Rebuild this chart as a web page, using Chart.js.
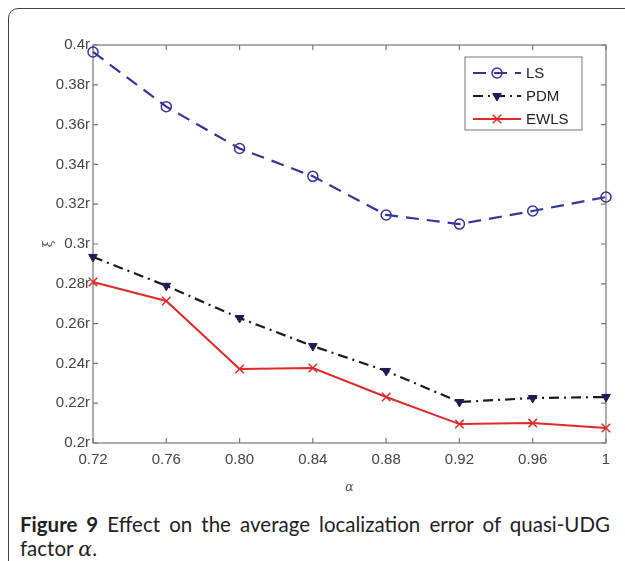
<!DOCTYPE html>
<html lang="en">
<head>
    <meta charset="UTF-8">
    <title>Effect of quasi-UDG factor</title>
    <script src="https://cdn.jsdelivr.net/npm/chart.js"></script>
    <style>
        html, body { margin: 0; padding: 0; background: #fff; }
        body { width: 625px; height: 561px; position: relative; overflow: hidden; }
        #frame {
            position: absolute; left: 8px; top: 8px; width: 640px; height: 580px;
            border: 1.5px solid #444; border-radius: 10px 0 0 0;
        }
        #errChart { position: absolute; left: 0; top: 0; }
        #caption {
            position: absolute; left: 20px; top: 512px; width: 590px;
            font-family: Lato, "Open Sans", sans-serif; font-size: 20.5px; line-height: 24px;
            color: #222; text-align: justify;
        }
        #caption b { font-weight: bold; }
        #caption i { font-family: "DejaVu Serif", serif; }
    </style>
</head>
<body>
    <div id="frame"></div>
    <canvas id="errChart" width="625" height="495"></canvas>
    <div id="caption"><b>Figure 9</b> Effect on the average localization error of quasi-UDG factor <i>α</i>.</div>

    <script>
        // quasi-UDG factor values
        const alphaTicks = [0.72, 0.76, 0.80, 0.84, 0.88, 0.92, 0.96, 1];
        // average localization error per method
        const lsErr   = [0.3965, 0.369, 0.348, 0.334, 0.3146, 0.310, 0.3166, 0.3236];
        const pdmErr  = [0.2935, 0.279, 0.2628, 0.2487, 0.2362, 0.2206, 0.2226, 0.2231];
        const ewlsErr = [0.2809, 0.2714, 0.2372, 0.2377, 0.2231, 0.2095, 0.2100, 0.2075];
        const yTicks  = [0.2, 0.22, 0.24, 0.26, 0.28, 0.3, 0.32, 0.34, 0.36, 0.38, 0.4];

        const pts = arr => arr.map((v, i) => ({ x: alphaTicks[i], y: v }));

        // box around the plot with inward tick marks on all four sides
        const boxPlugin = {
            id: 'box',
            beforeDatasetsDraw(chart) {
                const { ctx, chartArea: a, scales } = chart;
                ctx.save();
                ctx.strokeStyle = '#777';
                ctx.lineWidth = 1.2;
                ctx.strokeRect(a.left, a.top, a.right - a.left, a.bottom - a.top);
                const len = 5;
                ctx.beginPath();
                alphaTicks.forEach(v => {
                    const x = scales.x.getPixelForValue(v);
                    ctx.moveTo(x, a.bottom); ctx.lineTo(x, a.bottom - len);
                    ctx.moveTo(x, a.top); ctx.lineTo(x, a.top + len);
                });
                yTicks.forEach(v => {
                    const y = scales.y.getPixelForValue(v);
                    ctx.moveTo(a.left, y); ctx.lineTo(a.left + len, y);
                    ctx.moveTo(a.right, y); ctx.lineTo(a.right - len, y);
                });
                ctx.stroke();
                ctx.restore();
            }
        };

        // legend box with line + marker samples
        const legendPlugin = {
            id: 'boxLegend',
            afterDatasetsDraw(chart) {
                const { ctx } = chart;
                const bx = 465, by = 57, bw = 117, bh = 73;
                ctx.save();
                ctx.fillStyle = '#fff';
                ctx.fillRect(bx, by, bw, bh);
                ctx.strokeStyle = '#777';
                ctx.lineWidth = 1;
                ctx.strokeRect(bx, by, bw, bh);
                chart.data.datasets.forEach((ds, i) => {
                    const y = by + 16 + i * 23;
                    ctx.save();
                    ctx.strokeStyle = ds.borderColor;
                    ctx.lineWidth = ds.borderWidth;
                    ctx.setLineDash(ds.borderDash || []);
                    ctx.beginPath();
                    ctx.moveTo(bx + 8, y); ctx.lineTo(bx + 56, y);
                    ctx.stroke();
                    ctx.setLineDash([]);
                    ctx.fillStyle = ds.pointBackgroundColor;
                    ctx.strokeStyle = ds.pointBorderColor;
                    ctx.lineWidth = ds.pointBorderWidth;
                    Chart.helpers.drawPoint(ctx, {
                        pointStyle: ds.pointStyle, rotation: ds.pointRotation || 0,
                        radius: ds.pointRadius, borderWidth: ds.pointBorderWidth
                    }, bx + 32, y);
                    ctx.restore();
                    ctx.fillStyle = '#222';
                    ctx.font = '15px "Liberation Sans", Arial, sans-serif';
                    ctx.textBaseline = 'middle';
                    ctx.fillText(ds.label, bx + 61, y + 1);
                });
                ctx.restore();
            }
        };

        const ctx = document.getElementById('errChart').getContext('2d');
        const errChart = new Chart(ctx, {
            type: 'line',
            data: {
                datasets: [{
                    label: 'LS',
                    data: pts(lsErr),
                    borderColor: '#34359a',
                    borderWidth: 2.2,
                    borderDash: [13, 8],
                    pointStyle: 'circle',
                    pointRadius: 5,
                    pointBorderWidth: 1.5,
                    pointBorderColor: '#34359a',
                    pointBackgroundColor: 'rgba(255,255,255,0)'
                }, {
                    label: 'PDM',
                    data: pts(pdmErr),
                    borderColor: '#1a1a1a',
                    borderWidth: 2.2,
                    borderDash: [10, 5, 2, 5],
                    pointStyle: 'triangle',
                    pointRotation: 180,
                    pointRadius: 5,
                    pointBorderWidth: 1,
                    pointBorderColor: '#1c1d55',
                    pointBackgroundColor: '#1c1d55'
                }, {
                    label: 'EWLS',
                    data: pts(ewlsErr),
                    borderColor: '#e02a2a',
                    borderWidth: 2,
                    pointStyle: 'crossRot',
                    pointRadius: 6,
                    pointBorderWidth: 1.5,
                    pointBorderColor: '#e02a2a',
                    pointBackgroundColor: '#e02a2a'
                }]
            },
            options: {
                responsive: false,
                animation: false,
                devicePixelRatio: 1,
                clip: false,
                layout: { padding: { left: 42, top: 45, right: 19, bottom: 0 } },
                plugins: { legend: { display: false }, tooltip: { enabled: false } },
                scales: {
                    x: {
                        type: 'linear',
                        min: 0.72,
                        max: 1,
                        afterBuildTicks: s => { s.ticks = alphaTicks.map(v => ({ value: v })); },
                        afterFit: s => { s.height = 52; },
                        grid: { display: false, drawTicks: false },
                        border: { display: false },
                        ticks: {
                            padding: 8,
                            color: '#444',
                            font: { family: '"Liberation Sans", Arial, sans-serif', size: 15 },
                            maxRotation: 0,
                            autoSkip: false,
                            callback: v => v === 1 ? '1' : v.toFixed(2)
                        },
                        title: {
                            display: true, text: 'α', color: '#555',
                            font: { family: '"DejaVu Serif", serif', size: 13, style: 'italic' },
                            padding: { top: 2, bottom: 0 }
                        }
                    },
                    y: {
                        min: 0.2,
                        max: 0.4,
                        afterBuildTicks: s => { s.ticks = yTicks.map(v => ({ value: v })); },
                        afterFit: s => { s.width = 51; },
                        grid: { display: false, drawTicks: false },
                        border: { display: false },
                        ticks: {
                            padding: 3,
                            color: '#444',
                            font: { family: '"Liberation Sans", Arial, sans-serif', size: 15 },
                            callback: v => parseFloat(v.toFixed(2)) + 'r'
                        },
                        title: {
                            display: true, text: 'ξ', color: '#555',
                            font: { family: '"DejaVu Serif", serif', size: 12 },
                            padding: 0
                        }
                    }
                }
            },
            plugins: [boxPlugin, legendPlugin]
        });
    </script>
</body>
</html>
